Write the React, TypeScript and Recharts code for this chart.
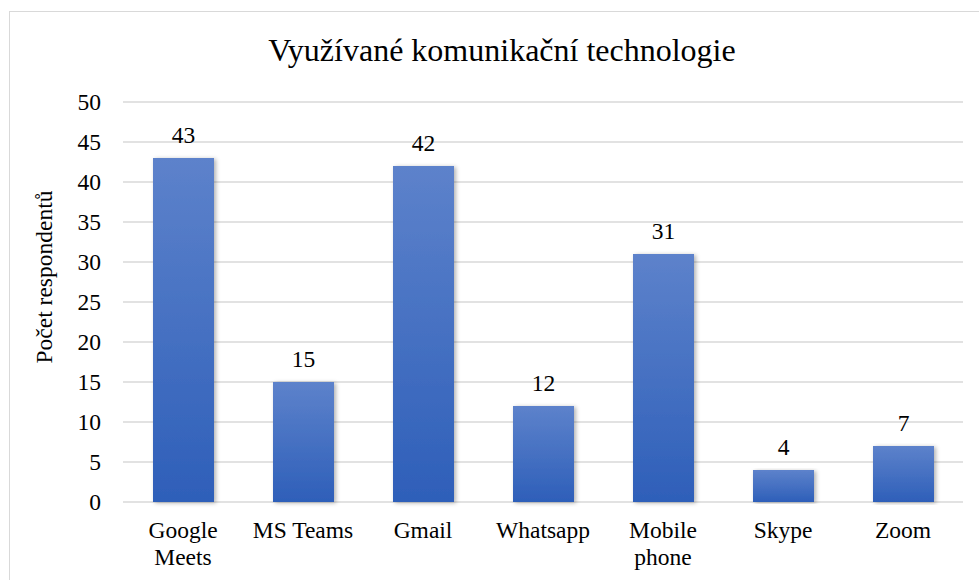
import { Bar, BarChart, CartesianGrid, LabelList, XAxis, YAxis } from 'recharts'

const FONT = '"Liberation Serif", "Times New Roman", Times, serif'

const categories = ['Google Meets', 'MS Teams', 'Gmail', 'Whatsapp', 'Mobile phone', 'Skype', 'Zoom']
const respondents = [43, 15, 42, 12, 31, 4, 7]
const yTicks = [0, 5, 10, 15, 20, 25, 30, 35, 40, 45, 50]

const data = categories.map((name, i) => ({ name, value: respondents[i] }))

const textStyle = { fontFamily: FONT, fontSize: 23.5 }

const CategoryTick = ({ x, y, payload }: any) => {
	const text: string = payload.value
	const lines = text.length > 10 ? text.split(' ') : [text]
	return (
		<text x={x} y={y} textAnchor="middle" style={textStyle} fill="#000">
			{lines.map((line, i) => (
				<tspan key={i} x={x} dy={i === 0 ? 36 : 27}>
					{line}
				</tspan>
			))}
		</text>
	)
}

const ValueTick = ({ x, y, payload }: any) => (
	<text x={x - 22} y={y + 8} textAnchor="end" style={textStyle} fill="#000">
		{payload.value}
	</text>
)

const BarValue = ({ x, y, width, value }: any) => (
	<text x={x + width / 2} y={y - 15} textAnchor="middle" style={textStyle} fill="#000">
		{value}
	</text>
)

const App = () => {
	return (
		<div style={{ position: 'absolute', left: 0, top: 0, width: 979, height: 580, background: '#fff', fontFamily: FONT }}>
			<div
				style={{
					position: 'absolute',
					left: 9,
					top: 11,
					width: 990,
					height: 600,
					borderTop: '1.5px solid #d9d9d9',
					borderLeft: '1.5px solid #d9d9d9',
				}}
			/>
			<BarChart
				width={979}
				height={580}
				data={data}
				margin={{ top: 102, right: 16, bottom: 18, left: 63 }}
				style={{ position: 'absolute', left: 0, top: 0, fontFamily: FONT }}
			>
				<defs>
					<linearGradient id="barFill" x1="0" y1="0" x2="0" y2="1">
						<stop offset="0%" stopColor="#5d82cb" />
						<stop offset="100%" stopColor="#2e5fb9" />
					</linearGradient>
					<filter id="barShadow" x="-20%" y="-5%" width="140%" height="110%">
						<feDropShadow dx="2" dy="1" stdDeviation="2" floodColor="#000" floodOpacity="0.3" />
					</filter>
				</defs>
				<CartesianGrid vertical={false} stroke="#d9d9d9" strokeWidth={1.5} />
				<XAxis
					dataKey="name"
					height={60}
					axisLine={false}
					tickLine={false}
					tickSize={0}
					tickMargin={0}
					interval={0}
					tick={<CategoryTick />}
				/>
				<YAxis
					width={60}
					domain={[0, 50]}
					ticks={yTicks}
					axisLine={false}
					tickLine={false}
					tickSize={0}
					tickMargin={0}
					tick={<ValueTick />}
				/>
				<Bar dataKey="value" barSize={61} fill="url(#barFill)" filter="url(#barShadow)" isAnimationActive={false}>
					<LabelList dataKey="value" content={<BarValue />} />
				</Bar>
			</BarChart>
			<svg width={979} height={580} style={{ position: 'absolute', left: 0, top: 0, pointerEvents: 'none' }}>
				<text x={502} y={61} textAnchor="middle" style={{ fontFamily: FONT, fontSize: 32 }} fill="#000">
					Využívané komunikační technologie
				</text>
				<text
					x={44}
					y={277}
					transform="rotate(-90 44 277)"
					textAnchor="middle"
					dominantBaseline="central"
					style={textStyle}
					fill="#000"
				>
					Počet respondentů
				</text>
			</svg>
		</div>
	)
}

export default App
